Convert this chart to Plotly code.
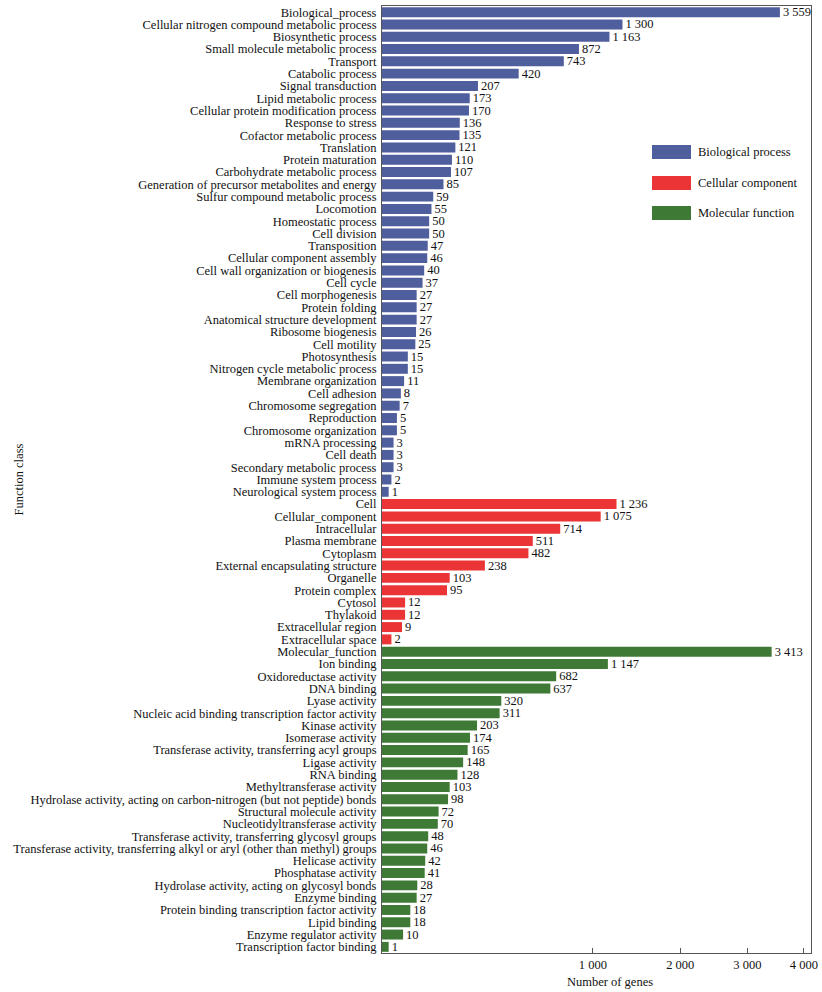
import math
import plotly.graph_objects as go

bp_names = [
    "Biological_process", "Cellular nitrogen compound metabolic process", "Biosynthetic process",
    "Small molecule metabolic process", "Transport", "Catabolic process", "Signal transduction",
    "Lipid metabolic process", "Cellular protein modification process", "Response to stress",
    "Cofactor metabolic process", "Translation", "Protein maturation", "Carbohydrate metabolic process",
    "Generation of precursor metabolites and energy", "Sulfur compound metabolic process", "Locomotion",
    "Homeostatic process", "Cell division", "Transposition", "Cellular component assembly",
    "Cell wall organization or biogenesis", "Cell cycle", "Cell morphogenesis", "Protein folding",
    "Anatomical structure development", "Ribosome biogenesis", "Cell motility", "Photosynthesis",
    "Nitrogen cycle metabolic process", "Membrane organization", "Cell adhesion",
    "Chromosome segregation", "Reproduction", "Chromosome organization", "mRNA processing",
    "Cell death", "Secondary metabolic process", "Immune system process", "Neurological system process",
]
bp_values = [3559, 1300, 1163, 872, 743, 420, 207, 173, 170, 136, 135, 121, 110, 107, 85, 59, 55,
             50, 50, 47, 46, 40, 37, 27, 27, 27, 26, 25, 15, 15, 11, 8, 7, 5, 5, 3, 3, 3, 2, 1]

cc_names = [
    "Cell", "Cellular_component", "Intracellular", "Plasma membrane", "Cytoplasm",
    "External encapsulating structure", "Organelle", "Protein complex", "Cytosol", "Thylakoid",
    "Extracellular region", "Extracellular space",
]
cc_values = [1236, 1075, 714, 511, 482, 238, 103, 95, 12, 12, 9, 2]

mf_names = [
    "Molecular_function", "Ion binding", "Oxidoreductase activity", "DNA binding", "Lyase activity",
    "Nucleic acid binding transcription factor activity", "Kinase activity", "Isomerase activity",
    "Transferase activity, transferring acyl groups", "Ligase activity", "RNA binding",
    "Methyltransferase activity",
    "Hydrolase activity, acting on carbon-nitrogen (but not peptide) bonds",
    "Structural molecule activity", "Nucleotidyltransferase activity",
    "Transferase activity, transferring glycosyl groups",
    "Transferase activity, transferring alkyl or aryl (other than methyl) groups",
    "Helicase activity", "Phosphatase activity", "Hydrolase activity, acting on glycosyl bonds",
    "Enzyme binding", "Protein binding transcription factor activity", "Lipid binding",
    "Enzyme regulator activity", "Transcription factor binding",
]
mf_values = [3413, 1147, 682, 637, 320, 311, 203, 174, 165, 148, 128, 103, 98, 72, 70, 48, 46,
             42, 41, 28, 27, 18, 18, 10, 1]

x_tick_values = [1000, 2000, 3000, 4000]
x_max = 4137

groups = [
    ("Biological process", bp_names, bp_values, "#4F5E9C"),
    ("Cellular component", cc_names, cc_values, "#EA3436"),
    ("Molecular function", mf_names, mf_values, "#3E7A36"),
]

FONT = "Liberation Serif"


def fmt(v):
    return f"{v:,}".replace(",", " ")


fig = go.Figure()
for name, cats, vals, color in groups:
    fig.add_trace(go.Bar(
        y=cats,
        x=[math.sqrt(v) for v in vals],
        orientation="h",
        name=name,
        marker=dict(color=color, line=dict(width=0)),
        text=[fmt(v) for v in vals],
        textposition="outside",
        constraintext="none",
        cliponaxis=False,
        textfont=dict(family=FONT, size=12.5, color="#111"),
        customdata=vals,
        hovertemplate="%{y}: %{customdata}<extra>" + name + "</extra>",
        showlegend=False,
    ))

all_cats = bp_names + cc_names + mf_names

fig.update_layout(
    width=822, height=992,
    margin=dict(l=382, r=11, t=6, b=39),
    paper_bgcolor="white", plot_bgcolor="white",
    barmode="relative", bargap=0.19,
    font=dict(family=FONT, size=12.5, color="#111"),
    xaxis=dict(
        range=[0, math.sqrt(x_max)],
        tickmode="array",
        tickvals=[math.sqrt(v) for v in x_tick_values],
        ticktext=[fmt(v) for v in x_tick_values],
        ticks="inside", ticklen=5, tickcolor="#555",
        showgrid=False, zeroline=False,
        showline=True, linecolor="#555", linewidth=1, mirror=True,
        tickfont=dict(family=FONT, size=12.5),
        automargin=False,
    ),
    yaxis=dict(
        type="category",
        categoryorder="array", categoryarray=all_cats,
        tickmode="array", tickvals=all_cats, ticktext=all_cats,
        autorange="reversed",
        ticks="", showgrid=False, zeroline=False,
        showline=True, linecolor="#555", linewidth=1, mirror=True,
        tickfont=dict(family=FONT, size=12.5),
        ticklabelstandoff=2,
        automargin=False,
    ),
)

# Axis titles
fig.add_annotation(text="Number of genes", xref="paper", yref="paper",
                   x=(610 - 382) / (811 - 382), y=-29 / 947, xanchor="center", yanchor="middle",
                   showarrow=False, font=dict(family=FONT, size=12.5))
fig.add_annotation(text="Function class", xref="paper", yref="paper",
                   x=(18 - 382) / (811 - 382), y=0.5, textangle=-90,
                   xanchor="center", yanchor="middle",
                   showarrow=False, font=dict(family=FONT, size=12.5))

# Custom legend
leg_y = [152, 183, 213]
for (name, _, _, color), yy in zip(groups, leg_y):
    fig.add_shape(type="rect", xref="paper", yref="paper",
                  x0=(652 - 382) / 429, x1=(691 - 382) / 429,
                  y0=1 - (yy - 7 - 6) / 947, y1=1 - (yy + 7 - 6) / 947,
                  fillcolor=color, line=dict(width=0))
    fig.add_annotation(text=name, xref="paper", yref="paper",
                       x=(696 - 382) / 429, y=1 - (yy - 6) / 947,
                       xanchor="left", yanchor="middle", showarrow=False,
                       font=dict(family=FONT, size=12.5))

fig.write_html("out.html", config={"displayModeBar": False},
               post_script="document.body.style.margin='0';document.body.style.overflow='hidden';")
